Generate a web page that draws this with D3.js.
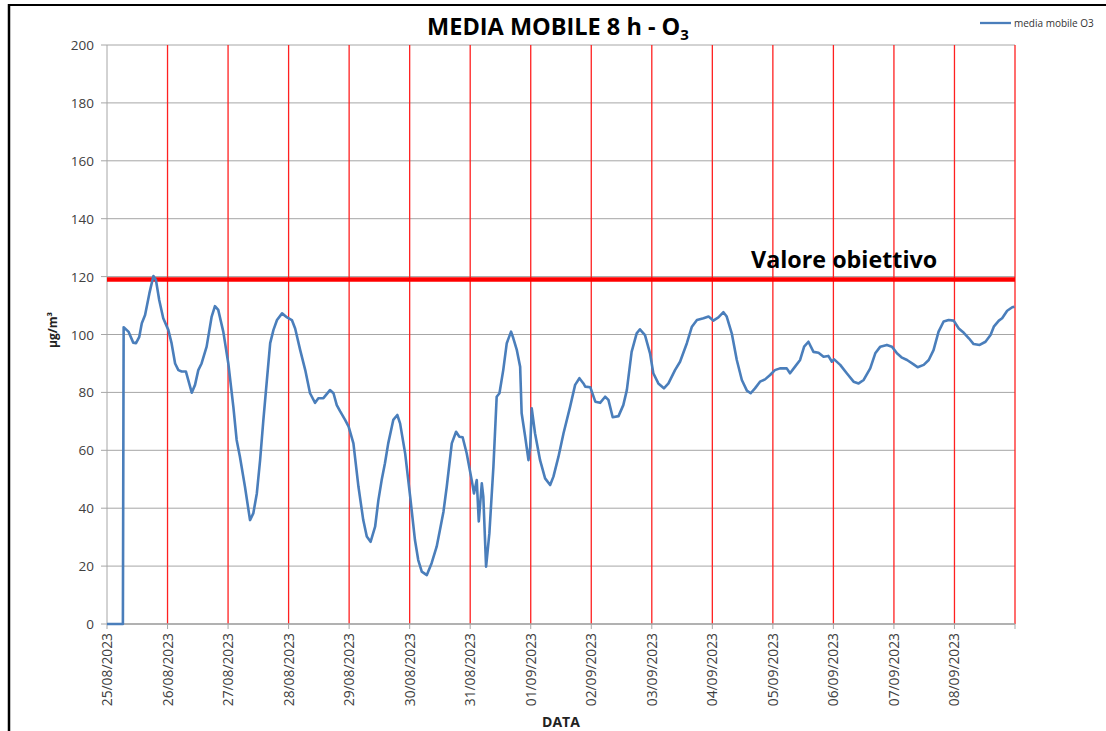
<!DOCTYPE html>
<html>
<head>
<meta charset="utf-8">
<script src="https://cdn.jsdelivr.net/npm/d3@7"></script>
<style>
  body { margin: 0; background: #fff; }
  text { font-family: 'Open Sans', sans-serif; }
</style>
</head>
<body>
<div id="root"></div>
<script>
// ore dall'inizio del 25/08/2023 e valori della media mobile (µg/m³)
const ore = [0, 6.3, 6.6, 8.5, 10.4, 11.5, 12.8, 13.8, 15.1, 16.8, 18.4, 19.4, 20.7, 22.3, 24.3, 25.6, 27, 28.3, 29.6, 31.3, 32.2, 33.6, 34.9, 36.2, 37.5, 39.5, 41.5, 42.8, 44.1, 46.1, 48.1, 50.1, 51.4, 52.7, 54.7, 56.7, 58, 59.4, 60.7, 62, 63.4, 64.7, 66, 67.4, 69.4, 71.4, 73.3, 74.6, 76.6, 78.6, 80.5, 82.5, 83.8, 85.8, 88.4, 89.8, 91.1, 92.4, 94.4, 95.8, 97.7, 99.7, 101.6, 103, 104.5, 106.3, 107.6, 108.9, 110.2, 111.5, 113.5, 115.1, 116.2, 118.2, 120.2, 122.1, 123.4, 124.8, 126.8, 128.7, 130.7, 132, 133.4, 134.7, 136.7, 138.4, 139.7, 141, 142.6, 144.6, 145.5, 146.6, 147.4, 148.6, 149.2, 150.3, 151.6, 153.2, 154.5, 155.6, 157.1, 158.5, 160.2, 161.1, 162.5, 163.8, 164.4, 165.8, 167.1, 167.8, 168.4, 169.7, 171.7, 173.7, 175.7, 177, 179, 181, 183.6, 185.6, 187.3, 188.9, 189.6, 191.6, 193.6, 195.5, 197.5, 198.8, 200.5, 202.8, 204.7, 206.1, 208, 210, 211.3, 213.3, 215.3, 216.6, 218.6, 220.8, 222.6, 225.2, 227.2, 229.9, 231.9, 233.9, 236.5, 238.5, 240.4, 242.4, 244.4, 245.7, 247.7, 249.7, 251.7, 253.7, 255.2, 256.9, 258.9, 260.9, 262.9, 264.8, 266.8, 269.5, 270.8, 272.8, 274.8, 276.4, 278.1, 280.1, 282.1, 284.1, 286, 287.4, 288.3, 290.7, 293.3, 296, 298, 300, 302.6, 304.6, 306.6, 309.2, 311.2, 313.2, 315.2, 317.2, 319.8, 321.4, 323.8, 325.8, 327.7, 329.7, 331.7, 333.7, 335.7, 337.7, 339.7, 341.7, 343.6, 346, 348.3, 350.3, 351.6, 353.6, 354.9, 356.9, 358.9, 359.8]
const valori = [0, 0, 102.5, 101, 97.2, 97, 99.2, 103.9, 106.7, 114.2, 120.2, 118.8, 111.9, 105.6, 101.6, 97, 90, 87.7, 87.2, 87.2, 84.3, 79.9, 82.6, 87.7, 90, 95.8, 106.2, 109.8, 108.5, 101, 90, 75, 63.6, 57.8, 47.4, 35.9, 38.2, 45.1, 56.6, 70.5, 84.3, 97, 101.6, 105, 107.3, 105.9, 105, 102.1, 94.6, 87.7, 79.7, 76.4, 78, 78, 80.8, 79.7, 75.6, 73.5, 70.5, 68.2, 62.4, 47.4, 35.9, 30.2, 28.4, 33.6, 42.8, 49.7, 55.5, 62.4, 70.5, 72.2, 69.3, 59, 44, 29, 22.1, 18.1, 16.9, 21, 26.7, 32.5, 38.8, 47.4, 62.4, 66.4, 64.7, 64.5, 59, 49.7, 45.1, 49.7, 35.4, 48.6, 44, 19.8, 31.3, 54.3, 78.5, 79.7, 87.7, 97, 101, 98.7, 94.6, 88.9, 72.8, 64.7, 56.6, 61.2, 74.5, 65.9, 56.6, 50.3, 48, 50.9, 57.8, 65.9, 75, 82.6, 84.9, 83.1, 82, 81.8, 76.8, 76.4, 78.5, 77.4, 71.4, 71.8, 75.6, 80.8, 94, 100.4, 101.8, 99.8, 93.5, 86.6, 83.1, 81.4, 83.1, 87.7, 90.6, 97, 102.7, 105, 105.6, 106.2, 104.8, 105.9, 107.7, 106.2, 100.4, 91.2, 84.3, 80.6, 79.7, 81.4, 83.7, 84.5, 86, 87.7, 88.3, 88.3, 86.6, 88.9, 91.2, 95.8, 97.5, 94, 93.7, 92.3, 92.6, 90.6, 91.4, 89.5, 86.6, 83.7, 83.1, 84.3, 88.3, 93.5, 95.8, 96.4, 95.8, 93.5, 92, 91.2, 89.7, 88.7, 89.5, 91.2, 94.6, 101, 104.5, 105, 104.8, 102.1, 100.6, 98.7, 96.7, 96.4, 97.5, 99.8, 102.7, 104.8, 105.6, 108.2, 109.4, 109.6]

const giorni = ['25/08/2023', '26/08/2023', '27/08/2023', '28/08/2023', '29/08/2023', '30/08/2023', '31/08/2023', '01/09/2023', '02/09/2023', '03/09/2023', '04/09/2023', '05/09/2023', '06/09/2023', '07/09/2023', '08/09/2023', '09/09/2023']
const tickY = [0, 20, 40, 60, 80, 100, 120, 140, 160, 180, 200]
const valoreObiettivo = 119

const width = 1106
const height = 731
const margin = { left: 107, right: 91, top: 45, bottom: 107 }

const parseDay = d3.timeParse('%d/%m/%Y')
const start = parseDay(giorni[0])
const data = ore.map((h, i) => ({ date: d3.timeMinute.offset(start, Math.round(h * 60)), value: valori[i] }))

const x = d3.scaleTime()
  .domain([ parseDay(giorni[0]), parseDay(giorni[giorni.length - 1]) ])
  .range([ margin.left, width - margin.right ])
const y = d3.scaleLinear().domain([ 0, 200 ]).range([ height - margin.bottom, margin.top ])

const svg = d3.select('#root').append('svg')
  .attr('width', width)
  .attr('height', height)

// cornice
svg.append('line').attr('x1', 8).attr('x2', 1106).attr('y1', 5).attr('y2', 5)
  .attr('stroke', '#000').attr('stroke-width', 2)
svg.append('line').attr('x1', 9).attr('x2', 9).attr('y1', 4).attr('y2', 731)
  .attr('stroke', '#000').attr('stroke-width', 2.5)

// griglia orizzontale
svg.append('g')
  .selectAll('line')
  .data(tickY)
  .enter()
  .append('line')
  .attr('x1', margin.left - 6)
  .attr('x2', width - margin.right)
  .attr('y1', d => y(d))
  .attr('y2', d => y(d))
  .attr('stroke', '#a6a6a6')
  .attr('stroke-width', 1)

// linee rosse giornaliere
svg.append('g')
  .selectAll('line')
  .data(giorni.slice(1))
  .enter()
  .append('line')
  .attr('x1', d => x(parseDay(d)))
  .attr('x2', d => x(parseDay(d)))
  .attr('y1', margin.top)
  .attr('y2', height - margin.bottom)
  .attr('stroke', '#ff2020')
  .attr('stroke-width', 1.3)

// asse y
svg.append('line')
  .attr('x1', margin.left).attr('x2', margin.left)
  .attr('y1', margin.top).attr('y2', height - margin.bottom)
  .attr('stroke', '#a6a6a6')

svg.append('g')
  .selectAll('text')
  .data(tickY)
  .enter()
  .append('text')
  .attr('x', 94)
  .attr('y', d => y(d) + 5)
  .attr('text-anchor', 'end')
  .attr('font-size', '13.5px')
  .attr('fill', '#404040')
  .text(d => d)

// asse x
svg.append('line')
  .attr('x1', margin.left).attr('x2', width - margin.right)
  .attr('y1', height - margin.bottom).attr('y2', height - margin.bottom)
  .attr('stroke', '#a6a6a6')
  .attr('stroke-width', 1.5)

svg.append('g')
  .selectAll('line')
  .data(giorni)
  .enter()
  .append('line')
  .attr('x1', d => x(parseDay(d)))
  .attr('x2', d => x(parseDay(d)))
  .attr('y1', height - margin.bottom)
  .attr('y2', height - margin.bottom + 5)
  .attr('stroke', '#a6a6a6')

svg.append('g')
  .selectAll('text')
  .data(giorni.slice(0, -1))
  .enter()
  .append('text')
  .attr('transform', d => 'translate(' + (x(parseDay(d)) + 5) + ',' + (height - margin.bottom + 9) + ') rotate(-90)')
  .attr('text-anchor', 'end')
  .attr('font-size', '13.8px')
  .attr('fill', '#404040')
  .text(d => d)

// valore obiettivo
svg.append('line')
  .attr('x1', margin.left).attr('x2', width - margin.right)
  .attr('y1', y(valoreObiettivo)).attr('y2', y(valoreObiettivo))
  .attr('stroke', '#ff0000')
  .attr('stroke-width', 4.5)

svg.append('text')
  .attr('x', 751)
  .attr('y', 268)
  .attr('font-size', '23.3px')
  .attr('font-weight', 'bold')
  .attr('fill', '#000')
  .text('Valore obiettivo')

// serie
const line = d3.line()
  .x(d => x(d.date))
  .y(d => y(d.value))

svg.append('path')
  .datum(data)
  .attr('d', line)
  .attr('fill', 'none')
  .attr('stroke', '#4a7ebb')
  .attr('stroke-width', 2.6)
  .attr('stroke-linejoin', 'round')

// titolo
const title = svg.append('text')
  .attr('x', 558)
  .attr('y', 35)
  .attr('text-anchor', 'middle')
  .attr('font-size', '23.5px')
  .attr('font-weight', 'bold')
  .attr('fill', '#000')
title.append('tspan').text('MEDIA MOBILE 8 h - O')
title.append('tspan').attr('font-size', '15px').attr('dy', 5).text('3')

// legenda
svg.append('line')
  .attr('x1', 980).attr('x2', 1011)
  .attr('y1', 23).attr('y2', 23)
  .attr('stroke', '#4a7ebb')
  .attr('stroke-width', 2.3)
svg.append('text')
  .attr('x', 1014)
  .attr('y', 27)
  .attr('font-size', '10px')
  .attr('fill', '#333')
  .text('media mobile O3')

// titoli assi
svg.append('text')
  .attr('transform', 'translate(57,330) rotate(-90)')
  .attr('text-anchor', 'middle')
  .attr('font-size', '12px')
  .attr('font-weight', 'bold')
  .attr('fill', '#222')
  .text('µg/m³')

svg.append('text')
  .attr('x', 561)
  .attr('y', 727)
  .attr('text-anchor', 'middle')
  .attr('font-size', '14px')
  .attr('font-weight', 'bold')
  .attr('fill', '#222')
  .text('DATA')
</script>
</body>
</html>
